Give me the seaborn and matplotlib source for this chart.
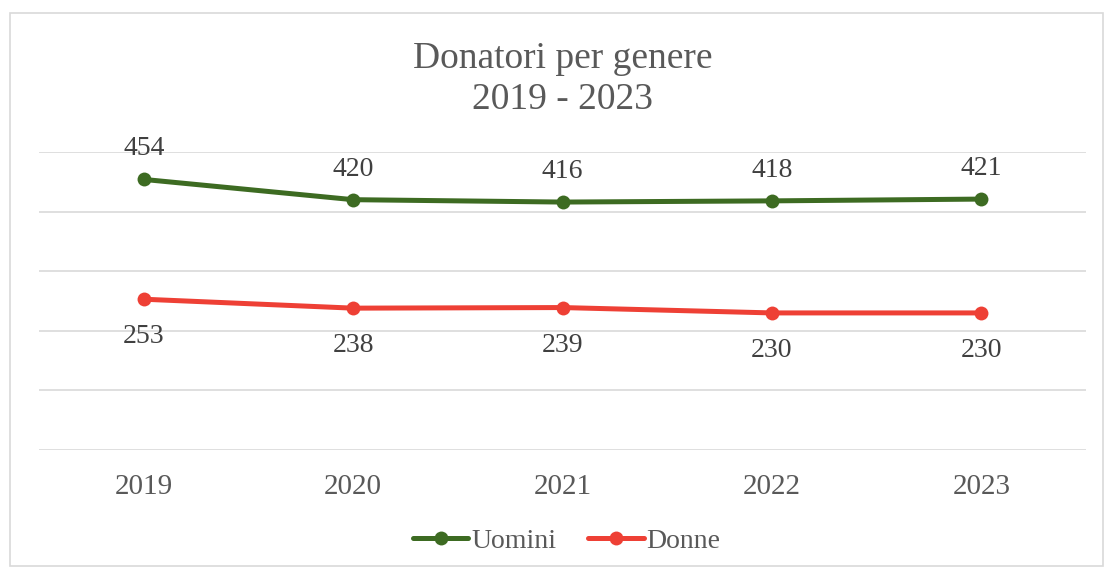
import pandas as pd
import numpy as np
import matplotlib.pyplot as plt
import seaborn as sns

# dati
anni = ['2019', '2020', '2021', '2022', '2023']
uomini = [454, 420, 416, 418, 421]
donne = [253, 238, 239, 230, 230]
serie = ['Uomini', 'Donne']
colori = {'Uomini': '#3d6b22', 'Donne': '#ee4035'}

df = pd.DataFrame({
    'Anno': anni * 2,
    'Donatori': uomini + donne,
    'Genere': ['Uomini'] * len(anni) + ['Donne'] * len(anni),
})

sns.set_style('white')
plt.rcParams['font.family'] = ['Liberation Serif', 'DejaVu Serif']

fig = plt.figure(figsize=(11.07, 5.69), dpi=100)
ax = fig.add_axes([39 / 1107, 1 - 450 / 569, (1086 - 39) / 1107, (450 - 152) / 569])

sns.lineplot(data=df, x='Anno', y='Donatori', hue='Genere', hue_order=serie,
             palette=colori, marker='o', markersize=10, markeredgewidth=0,
             linewidth=3.6, ax=ax, legend=False)

# etichette dei valori: sopra per gli uomini, sotto per le donne
for i, v in enumerate(uomini):
    ax.annotate(str(v), (i, v), xytext=(0, 13), textcoords='offset points',
                ha='center', va='bottom', fontsize=20, color='#404040')
for i, v in enumerate(donne):
    ax.annotate(str(v), (i, v), xytext=(0, -18), textcoords='offset points',
                ha='center', va='top', fontsize=20, color='#404040')

ax.set_xlim(-0.5, 4.5)
ax.set_ylim(0, 500)
ax.set_yticks(np.arange(0, 501, 100))
ax.set_yticklabels([])
ax.yaxis.grid(True, color='#d9d9d9', linewidth=1.2)
ax.tick_params(axis='x', labelsize=21, labelcolor='#595959', length=0, pad=17)
ax.tick_params(axis='y', length=0)
ax.set_xlabel('')
ax.set_ylabel('')
for s in ax.spines.values():
    s.set_visible(False)

fig.suptitle('Donatori per genere\n2019 - 2023', fontsize=27, color='#595959',
             x=0.508, y=1 - 41 / 569, va='top', linespacing=1.25)

maniglie = [plt.Line2D([], [], color=colori[s], marker='o', markersize=10,
                       markeredgewidth=0, linewidth=3.6) for s in serie]
fig.legend(maniglie, serie, loc='center', bbox_to_anchor=(0.512, 1 - 541 / 569),
           ncol=2, frameon=False, fontsize=20, handlelength=2.0,
           handletextpad=0.1, columnspacing=1.15, labelcolor='#595959')

# cornice del grafico
cornice = plt.Rectangle((10 / 1107, 3 / 569), 1093 / 1107, 553 / 569,
                        transform=fig.transFigure, fill=False,
                        edgecolor='#d9d9d9', linewidth=1.2)
fig.patches.append(cornice)

fig.savefig('out.png', dpi=100)
